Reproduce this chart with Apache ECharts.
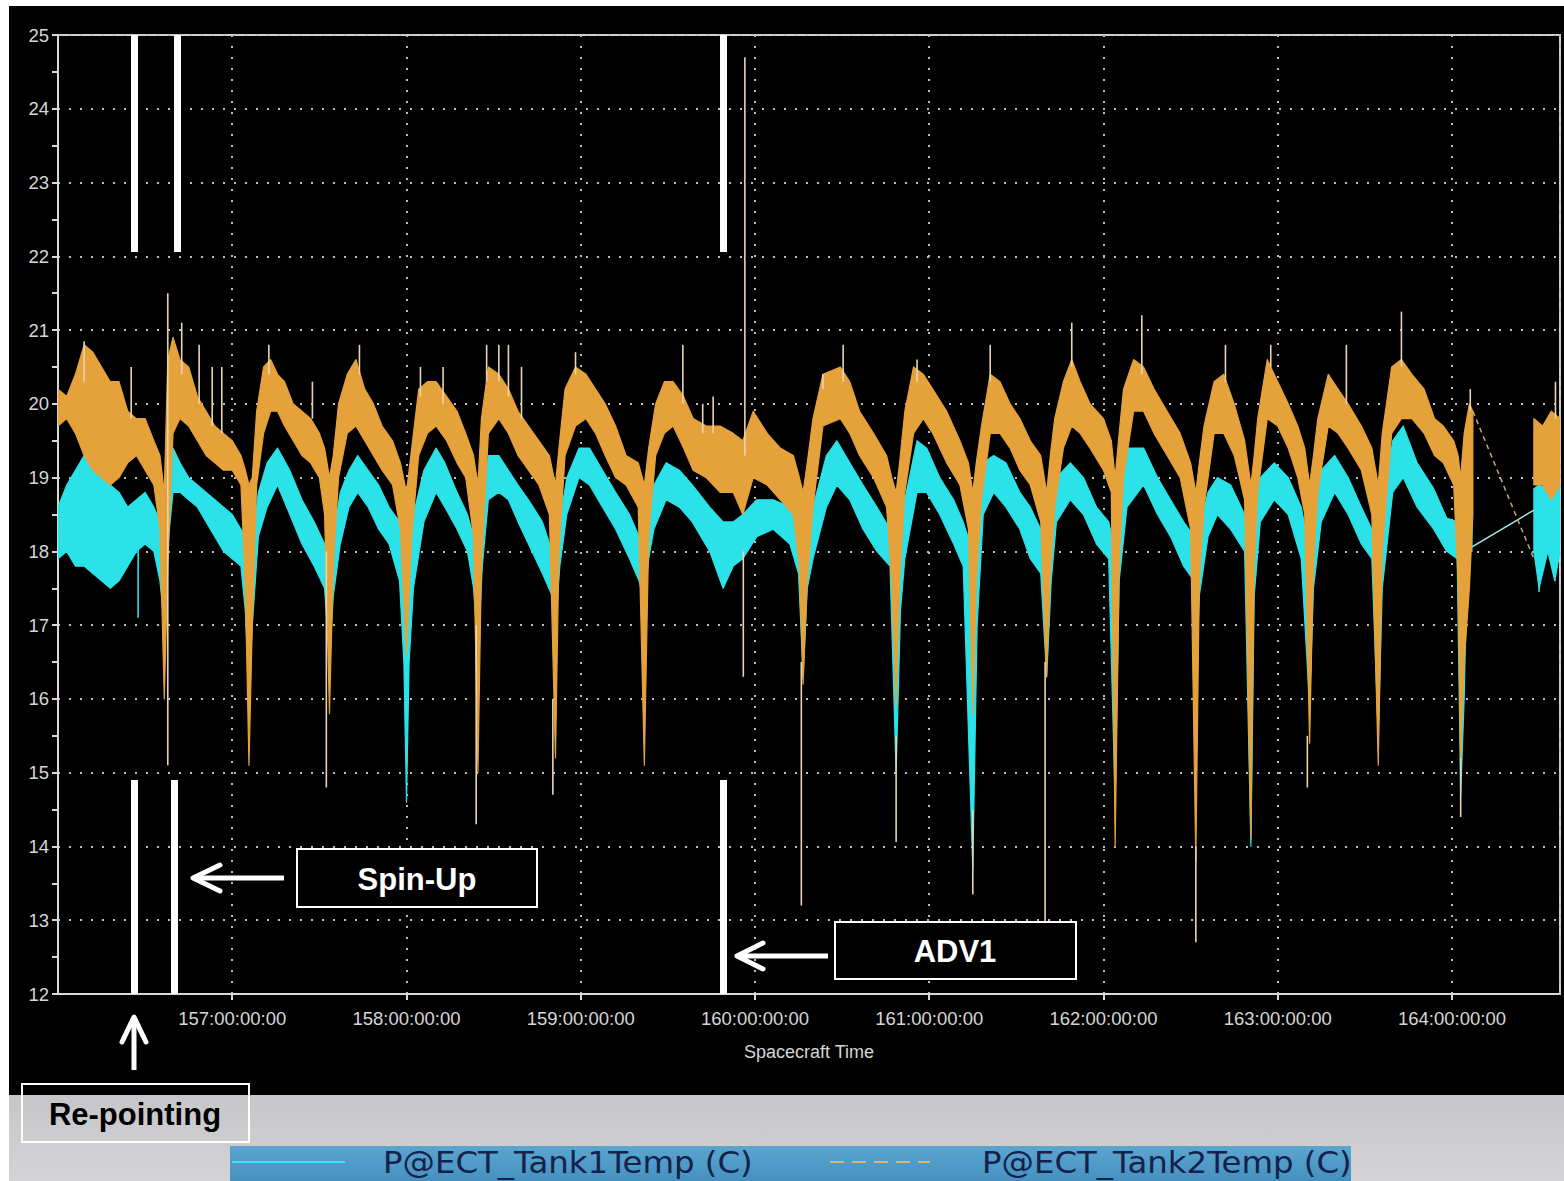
<!DOCTYPE html>
<html>
<head>
<meta charset="utf-8">
<script src="https://cdn.jsdelivr.net/npm/echarts@6/dist/echarts.min.js"></script>
<style>
html,body{margin:0;padding:0;background:#fff;}
#chart{width:1564px;height:1181px;}
</style>
</head>
<body>
<div id="chart"></div>
<script>
// ---------------- DATA ----------------
// Axis extents / tick labels
const dayTicks = [157, 158, 159, 160, 161, 162, 163, 164];
const dayLabels = ['157:00:00:00','158:00:00:00','159:00:00:00','160:00:00:00','161:00:00:00','162:00:00:00','163:00:00:00','164:00:00:00'];
const tempTicks = [12,13,14,15,16,17,18,19,20,21,22,23,24,25];

// P@ECT_Tank2Temp (C): [day, low of trace band, high of trace band]
const tank2Samples = [
[156.00,19.7,20.2],[156.05,19.8,20.1],[156.10,19.6,20.4],[156.15,19.3,20.8],[156.20,19.1,20.7],
[156.25,19.0,20.5],[156.30,18.9,20.3],[156.35,19.0,20.3],[156.40,19.2,19.9],[156.45,19.3,19.8],
[156.50,19.1,19.8],[156.55,18.9,19.5],[156.585,18.3,19.3],[156.61,16.0,18.8],[156.63,17.8,20.6],
[156.66,19.6,20.9],[156.70,19.8,20.6],[156.75,19.7,20.5],[156.80,19.5,20.1],[156.85,19.3,19.9],
[156.90,19.2,19.7],[156.95,19.1,19.6],[157.00,19.1,19.5],[157.05,18.9,19.3],[157.075,17.5,19.1],
[157.096,15.1,18.9],[157.115,17.0,19.0],[157.14,18.9,19.9],[157.18,19.6,20.5],[157.22,19.9,20.6],
[157.26,19.9,20.4],[157.30,19.7,20.3],[157.35,19.5,20.0],[157.40,19.3,19.9],[157.45,19.2,19.8],
[157.50,19.0,19.6],[157.53,18.5,19.4],[157.558,15.8,19.0],[157.58,17.8,19.3],[157.61,19.0,20.0],
[157.66,19.6,20.4],[157.71,19.7,20.6],[157.76,19.5,20.2],[157.81,19.3,20.0],[157.86,19.1,19.7],
[157.92,18.9,19.5],[157.965,18.3,19.2],[158.00,16.6,18.8],[158.03,18.2,19.4],[158.07,19.3,20.2],
[158.12,19.6,20.3],[158.17,19.7,20.3],[158.23,19.5,20.1],[158.29,19.2,19.9],[158.34,19.0,19.6],
[158.385,18.2,19.3],[158.41,15.0,18.9],[158.43,17.8,19.8],[158.47,19.6,20.5],[158.53,19.8,20.4],
[158.585,19.6,20.2],[158.64,19.3,19.9],[158.70,19.1,19.7],[158.76,18.9,19.5],[158.82,18.5,19.3],
[158.855,15.2,18.9],[158.875,18.0,19.4],[158.91,19.3,20.2],[158.97,19.7,20.5],[159.03,19.8,20.4],
[159.085,19.6,20.2],[159.14,19.3,20.0],[159.20,19.0,19.7],[159.26,18.9,19.3],[159.33,18.6,19.2],
[159.365,15.1,18.9],[159.39,18.2,19.4],[159.43,19.3,20.0],[159.48,19.6,20.3],[159.53,19.7,20.3],
[159.59,19.4,20.1],[159.645,19.1,19.8],[159.72,19.0,19.7],[159.80,18.8,19.7],[159.875,18.8,19.6],
[159.93,18.5,19.5],[159.99,19.0,19.9],[160.07,18.9,19.6],[160.145,18.7,19.4],[160.22,18.5,19.3],
[160.255,17.8,19.0],[160.276,16.2,18.8],[160.30,17.6,19.2],[160.333,18.6,19.8],[160.39,19.7,20.4],
[160.49,19.8,20.5],[160.544,19.6,20.3],[160.60,19.3,19.9],[160.68,19.0,19.6],[160.755,18.6,19.3],
[160.785,17.6,19.0],[160.81,15.9,18.8],[160.83,17.6,19.2],[160.86,18.8,19.9],[160.91,19.6,20.5],
[160.966,19.8,20.4],[161.02,19.6,20.2],[161.10,19.2,19.9],[161.176,18.9,19.5],[161.225,18.3,19.2],
[161.25,15.8,18.8],[161.27,17.6,19.2],[161.30,18.7,19.7],[161.35,19.6,20.4],[161.406,19.6,20.3],
[161.464,19.4,20.0],[161.52,19.1,19.8],[161.58,18.9,19.5],[161.64,18.4,19.3],[161.674,16.3,18.8],
[161.695,17.7,19.3],[161.72,18.6,19.8],[161.77,19.4,20.3],[161.818,19.7,20.6],[161.866,19.6,20.3],
[161.923,19.4,20.0],[162.00,19.1,19.8],[162.045,18.8,19.5],[162.067,14.0,19.0],[162.09,17.8,19.6],
[162.115,19.0,20.2],[162.173,19.9,20.6],[162.23,19.9,20.5],[162.29,19.6,20.2],[162.365,19.3,19.9],
[162.44,19.0,19.6],[162.50,18.3,19.2],[162.53,13.8,18.8],[162.55,17.6,19.2],[162.577,18.6,19.7],
[162.635,19.6,20.3],[162.69,19.6,20.4],[162.75,19.3,20.0],[162.81,18.7,19.5],[162.846,14.1,18.9],
[162.865,17.8,19.3],[162.885,18.8,19.8],[162.94,19.8,20.6],[163.00,19.7,20.3],[163.06,19.4,20.0],
[163.115,19.0,19.7],[163.155,18.5,19.4],[163.183,15.4,18.9],[163.205,17.8,19.3],[163.23,18.8,19.8],
[163.29,19.7,20.4],[163.346,19.6,20.2],[163.404,19.4,20.0],[163.48,19.1,19.7],[163.54,18.5,19.4],
[163.577,15.1,18.9],[163.60,18.0,19.6],[163.654,19.6,20.5],[163.71,19.8,20.6],[163.77,19.8,20.4],
[163.84,19.6,20.2],[163.90,19.3,19.8],[163.95,19.2,19.7],[164.01,18.9,19.5],[164.035,17.6,19.3],
[164.05,15.1,19.0],[164.07,16.5,19.6],[164.10,17.5,20.0],[164.12,18.5,19.9],
[164.47,18.9,19.8],[164.52,18.9,19.7],[164.57,18.7,19.9],[164.62,18.9,19.8]
];

// P@ECT_Tank1Temp (C): [day, low of trace band, high of trace band]
const tank1Samples = [
[156.00,17.9,18.6],[156.05,18.0,18.9],[156.10,17.8,19.1],[156.15,17.8,19.3],[156.20,17.7,19.3],
[156.25,17.6,19.0],[156.30,17.5,18.9],[156.35,17.6,18.8],[156.40,17.8,18.6],[156.45,18.0,18.7],
[156.50,18.1,18.8],[156.55,18.0,18.6],[156.585,17.6,18.4],[156.61,17.0,18.3],[156.635,18.2,19.1],
[156.66,18.8,19.4],[156.70,18.8,19.2],[156.75,18.7,19.0],[156.80,18.6,18.9],[156.85,18.4,18.8],
[156.90,18.2,18.7],[156.95,18.0,18.6],[157.00,17.9,18.5],[157.05,17.8,18.3],[157.075,17.2,18.2],
[157.096,16.1,18.0],[157.115,17.0,18.1],[157.15,18.2,18.8],[157.20,18.6,19.2],[157.26,18.9,19.4],
[157.33,18.5,19.1],[157.40,18.1,18.7],[157.47,17.8,18.4],[157.53,17.5,18.1],[157.558,16.5,18.0],
[157.58,17.4,18.2],[157.62,18.1,18.8],[157.67,18.6,19.1],[157.72,18.8,19.3],[157.78,18.6,19.1],
[157.84,18.3,18.9],[157.90,18.1,18.6],[157.96,17.6,18.4],[157.985,16.5,18.2],[158.00,14.6,18.0],
[158.015,16.5,18.1],[158.04,17.5,18.5],[158.10,18.4,19.1],[158.17,18.8,19.4],[158.22,18.6,19.2],
[158.29,18.3,18.8],[158.35,18.0,18.5],[158.385,17.5,18.2],[158.41,16.6,18.0],[158.435,17.8,18.5],
[158.47,18.7,19.3],[158.53,18.8,19.3],[158.585,18.7,19.1],[158.64,18.4,18.9],[158.70,18.1,18.7],
[158.78,17.7,18.4],[158.836,17.4,18.0],[158.855,17.0,17.9],[158.88,17.8,18.4],[158.92,18.5,19.0],
[158.99,19.0,19.4],[159.05,18.9,19.4],[159.125,18.6,19.1],[159.20,18.3,18.8],[159.28,17.9,18.5],
[159.335,17.6,18.2],[159.365,17.3,18.0],[159.39,17.9,18.5],[159.42,18.3,18.9],[159.49,18.7,19.2],
[159.566,18.6,19.1],[159.64,18.4,18.9],[159.74,18.0,18.6],[159.817,17.5,18.4],[159.875,17.8,18.4],
[159.93,17.9,18.5],[160.01,18.2,18.7],[160.105,18.3,18.7],[160.20,18.1,18.6],[160.25,17.7,18.3],
[160.276,16.3,18.0],[160.30,17.5,18.2],[160.333,17.9,18.6],[160.41,18.6,19.3],[160.47,18.9,19.5],
[160.544,18.7,19.2],[160.62,18.3,18.9],[160.70,18.0,18.6],[160.775,17.8,18.3],[160.81,15.0,18.0],
[160.835,17.2,18.3],[160.86,17.9,18.7],[160.93,18.8,19.5],[160.985,18.8,19.4],[161.06,18.5,19.0],
[161.14,18.1,18.7],[161.195,17.8,18.4],[161.25,13.7,18.0],[161.275,17.0,18.3],[161.31,18.5,19.2],
[161.37,18.8,19.3],[161.44,18.6,19.2],[161.52,18.3,18.8],[161.58,17.9,18.6],[161.64,17.7,18.3],
[161.674,16.3,18.1],[161.70,17.6,18.4],[161.73,18.4,19.0],[161.81,18.7,19.2],[161.885,18.5,19.0],
[161.96,18.1,18.6],[162.03,17.9,18.4],[162.067,14.6,18.0],[162.09,17.6,18.6],[162.135,18.6,19.4],
[162.23,18.9,19.4],[162.31,18.5,19.0],[162.385,18.2,18.7],[162.46,17.8,18.4],[162.52,17.6,18.2],
[162.53,16.2,18.0],[162.55,17.4,18.3],[162.60,18.2,18.8],[162.654,18.5,19.0],[162.73,18.3,18.9],
[162.81,18.0,18.5],[162.846,14.0,18.0],[162.865,17.4,18.4],[162.90,18.4,19.0],[162.98,18.7,19.2],
[163.06,18.5,19.0],[163.135,17.9,18.6],[163.183,15.9,18.0],[163.205,17.5,18.5],[163.25,18.4,19.1],
[163.327,18.8,19.3],[163.404,18.5,19.0],[163.48,18.1,18.6],[163.54,17.9,18.3],[163.577,15.5,18.0],
[163.60,17.5,18.6],[163.66,18.8,19.5],[163.72,19.0,19.7],[163.80,18.6,19.2],[163.895,18.3,18.85],
[163.97,18.0,18.45],[164.03,17.9,18.4],[164.05,14.7,18.0],[164.07,16.0,18.5],[164.09,18.1,19.3],
[164.115,18.0,19.0],
[164.47,18.0,18.85],[164.50,17.5,18.9],[164.55,18.0,18.85],[164.59,17.6,18.9],[164.62,18.0,18.9]
];

// Lines drawn across the data gap near day 164.1 - 164.47
const tank1Bridge = [[164.115,18.06],[164.47,18.56]];
const tank2Bridge = [[164.12,19.9],[164.47,17.9]];

// Isolated single-sample spikes: [day, low, high]
const spikeSamples = [
[156.15,20.3,20.85],[156.42,19.8,20.5],[156.63,15.1,21.5],[156.71,20.4,21.1],[156.81,20.0,20.8],
[156.885,19.7,20.5],[156.94,19.6,20.5],[157.21,20.4,20.8],[157.46,19.8,20.3],[157.54,14.8,18.0],
[157.73,20.4,20.8],[158.08,20.1,20.5],[158.21,20.0,20.5],[158.40,14.3,17.0],[158.46,20.3,20.8],
[158.53,20.3,20.8],[158.585,20.1,20.8],[158.66,19.8,20.5],[158.84,14.7,16.0],[158.97,20.4,20.7],
[159.586,20.0,20.8],[159.70,19.6,20.0],[159.76,19.6,20.1],[159.942,19.3,24.7],[159.933,16.3,18.0],
[160.266,13.2,16.5],[160.39,20.2,20.4],[160.506,20.3,20.8],[160.81,14.06,15.5],[160.93,20.3,20.6],
[161.25,13.35,14.5],[161.35,20.3,20.8],[161.665,12.9,16.5],[161.818,20.5,21.1],[162.22,20.4,21.2],
[162.53,12.7,14.0],[162.70,20.3,20.8],[162.96,20.5,20.8],[163.17,14.8,15.5],[163.394,20.0,20.8],
[163.71,20.5,21.25],[164.05,14.4,15.2],[164.105,19.9,20.2],[164.594,19.8,20.3]
];
const tank1SpikeSamples = [[156.46,17.1,18.2],[164.50,17.45,18.0],[164.59,17.6,18.0]];

// Event markers (white bars): [day, from value, to value]
const eventBars = [
[156.439,25,22.06],[156.686,25,22.06],[159.82,25,22.06],
[156.439,14.9,12],[156.669,14.9,12],[159.82,14.9,12]
];

const seriesNames = ['P@ECT_Tank1Temp (C)','P@ECT_Tank2Temp (C)'];

// ---------------- CHART ----------------
const GAP = 0.2;
const CYAN = '#2ae2e8';
const ORANGE = '#e6a23a';
const SPIKE = '#e8d5b0';
const AXIS_TXT = '#d6d6d6';
const FONT = 'Liberation Sans, Arial, sans-serif';

function bandSeries(name, samples, color, z) {
  return {
    type: 'custom', name: name, z: z, silent: true, clip: true,
    data: samples,
    encode: {x: 0, y: [1, 2]},
    renderItem: function (params, api) {
      const i = params.dataIndex;
      const isStart = i === 0 || samples[i][0] - samples[i - 1][0] > GAP;
      if (!isStart) return null;
      let j = i;
      while (j + 1 < samples.length && samples[j + 1][0] - samples[j][0] <= GAP) j++;
      const top = [], bot = [];
      for (let k = i; k <= j; k++) {
        top.push(api.coord([samples[k][0], samples[k][2]]));
        bot.push(api.coord([samples[k][0], samples[k][1]]));
      }
      return {
        type: 'polygon',
        shape: {points: top.concat(bot.reverse())},
        style: {fill: color, stroke: color, lineWidth: 1.2, lineJoin: 'round'}
      };
    }
  };
}

function spikeSeries(samples, color, z) {
  return {
    type: 'custom', z: z, silent: true, clip: true,
    data: samples,
    encode: {x: 0, y: [1, 2]},
    renderItem: function (params, api) {
      const a = api.coord([api.value(0), api.value(1)]);
      const b = api.coord([api.value(0), api.value(2)]);
      return {type: 'line', shape: {x1: a[0], y1: a[1], x2: b[0], y2: b[1]},
              style: {stroke: color, lineWidth: 1.6}};
    }
  };
}

const chart = echarts.init(document.getElementById('chart'), null, {renderer: 'svg'});

const LEGEND_FONT = '30px "DejaVu Sans", "Liberation Sans", sans-serif';

const option = {
  animation: false,
  backgroundColor: '#000',
  grid: {left: 58, right: 4, top: 35, bottom: 187, show: true,
         borderColor: '#cfcfcf', borderWidth: 2, backgroundColor: 'transparent'},
  xAxis: {
    type: 'value', min: 156, max: 164.62, interval: 1,
    name: 'Spacecraft Time', nameLocation: 'middle', nameGap: 49,
    nameTextStyle: {color: AXIS_TXT, fontSize: 18, fontFamily: FONT},
    axisLine: {show: true, lineStyle: {color: '#d8d8d8', width: 2}},
    axisTick: {show: true, length: 6, lineStyle: {color: '#d8d8d8', width: 2}},
    axisLabel: {
      color: AXIS_TXT, fontSize: 18.5, fontFamily: FONT, margin: 15,
      showMinLabel: false, showMaxLabel: false,
      formatter: function (v) {
        const idx = dayTicks.findIndex(function (d) { return Math.abs(d - v) < 1e-6; });
        return idx >= 0 ? dayLabels[idx] : '';
      }
    },
    splitLine: {show: true, lineStyle: {color: '#bdbdbd', width: 2, type: [2, 9]}}
  },
  yAxis: {
    type: 'value', min: tempTicks[0], max: tempTicks[tempTicks.length - 1], interval: 1,
    axisLine: {show: true, lineStyle: {color: '#d8d8d8', width: 2}},
    axisTick: {show: true, length: 6, lineStyle: {color: '#d8d8d8', width: 2}},
    minorTick: {show: true, splitNumber: 2, length: 6, lineStyle: {color: '#d8d8d8', width: 2}},
    axisLabel: {color: AXIS_TXT, fontSize: 18.5, fontFamily: FONT, margin: 9},
    splitLine: {show: true, lineStyle: {color: '#bdbdbd', width: 2, type: [2, 9]}}
  },
  series: [
    bandSeries(seriesNames[0], tank1Samples, CYAN, 3),
    bandSeries(seriesNames[1], tank2Samples, ORANGE, 4),
    spikeSeries(tank1SpikeSamples, CYAN, 4),
    spikeSeries(spikeSamples, SPIKE, 5),
    {
      type: 'line', name: seriesNames[0] + ' gap', data: tank1Bridge, z: 5, silent: true,
      symbol: 'none', lineStyle: {color: '#9fe8e8', width: 1.5},
      markLine: {
        silent: true, symbol: ['none', 'none'], animation: false,
        label: {show: false}, emphasis: {disabled: true},
        lineStyle: {color: '#ffffff', width: 7, type: 'solid'},
        data: eventBars.map(function (e) { return [{coord: [e[0], e[1]]}, {coord: [e[0], e[2]]}]; })
      }
    },
    {
      type: 'line', name: seriesNames[1] + ' gap', data: tank2Bridge, z: 5, silent: true,
      symbol: 'none', lineStyle: {color: '#c9a66a', width: 1.5, type: [5, 4]}
    }
  ],
  graphic: [
    // page margins and lower grey band
    {type: 'rect', z: 100, shape: {x: 0, y: 0, width: 9, height: 1181}, style: {fill: '#ffffff'}},
    {type: 'rect', z: 100, shape: {x: 0, y: 0, width: 1564, height: 6}, style: {fill: '#ffffff'}},
    {type: 'rect', z: 100, shape: {x: 9, y: 1095, width: 1555, height: 86},
     style: {fill: new echarts.graphic.LinearGradient(0, 0, 0, 1, [{offset: 0, color: '#c6c6c8'}, {offset: 1, color: '#d4d4d6'}])}},
    // legend band
    {type: 'rect', z: 101, shape: {x: 230, y: 1146, width: 1121, height: 35},
     style: {fill: new echarts.graphic.LinearGradient(0, 0, 0, 1, [{offset: 0, color: '#5aa6d0'}, {offset: 1, color: '#4690bf'}])}},
    {type: 'line', z: 102, shape: {x1: 232, y1: 1162, x2: 345, y2: 1162}, style: {stroke: '#40e4f0', lineWidth: 2}},
    {type: 'text', z: 102, x: 383, y: 1162, scaleX: 1.08,
     style: {text: seriesNames[0], fill: '#15214a', font: LEGEND_FONT, textVerticalAlign: 'middle'}},
    {type: 'line', z: 102, shape: {x1: 830, y1: 1162, x2: 930, y2: 1162}, style: {stroke: '#d4b877', lineWidth: 2, lineDash: [14, 8]}},
    {type: 'text', z: 102, x: 982, y: 1162, scaleX: 1.08,
     style: {text: seriesNames[1], fill: '#15214a', font: LEGEND_FONT, textVerticalAlign: 'middle'}},
    // Spin-Up annotation
    {type: 'rect', z: 110, shape: {x: 297, y: 849, width: 240, height: 58}, style: {fill: '#000', stroke: '#ffffff', lineWidth: 2}},
    {type: 'text', z: 111, x: 417, y: 879,
     style: {text: 'Spin-Up', fill: '#ffffff', font: 'bold 31px "Liberation Sans", Arial, sans-serif', textAlign: 'center', textVerticalAlign: 'middle'}},
    {type: 'line', z: 111, shape: {x1: 284, y1: 878, x2: 196, y2: 878}, style: {stroke: '#ffffff', lineWidth: 5}},
    {type: 'polyline', z: 111, shape: {points: [[220, 865], [193, 878], [220, 891]]}, style: {stroke: '#ffffff', lineWidth: 5, lineCap: 'round', lineJoin: 'round', fill: null}},
    // ADV1 annotation
    {type: 'rect', z: 110, shape: {x: 835, y: 922, width: 241, height: 57}, style: {fill: '#000', stroke: '#ffffff', lineWidth: 2}},
    {type: 'text', z: 111, x: 955, y: 951,
     style: {text: 'ADV1', fill: '#ffffff', font: 'bold 31px "Liberation Sans", Arial, sans-serif', textAlign: 'center', textVerticalAlign: 'middle'}},
    {type: 'line', z: 111, shape: {x1: 828, y1: 956, x2: 740, y2: 956}, style: {stroke: '#ffffff', lineWidth: 5}},
    {type: 'polyline', z: 111, shape: {points: [[763, 943], [737, 956], [763, 969]]}, style: {stroke: '#ffffff', lineWidth: 5, lineCap: 'round', lineJoin: 'round', fill: null}},
    // Re-pointing annotation
    {type: 'rect', z: 110, shape: {x: 22, y: 1084, width: 227, height: 58}, style: {fill: 'transparent', stroke: '#ffffff', lineWidth: 2}},
    {type: 'text', z: 111, x: 135, y: 1114,
     style: {text: 'Re-pointing', fill: '#000000', font: 'bold 31px "Liberation Sans", Arial, sans-serif', textAlign: 'center', textVerticalAlign: 'middle'}},
    {type: 'line', z: 111, shape: {x1: 134, y1: 1070, x2: 134, y2: 1020}, style: {stroke: '#ffffff', lineWidth: 5}},
    {type: 'polyline', z: 111, shape: {points: [[122, 1042], [134, 1017], [146, 1042]]}, style: {stroke: '#ffffff', lineWidth: 5, lineCap: 'round', lineJoin: 'round', fill: null}}
  ]
};

chart.setOption(option);
</script>
</body>
</html>
